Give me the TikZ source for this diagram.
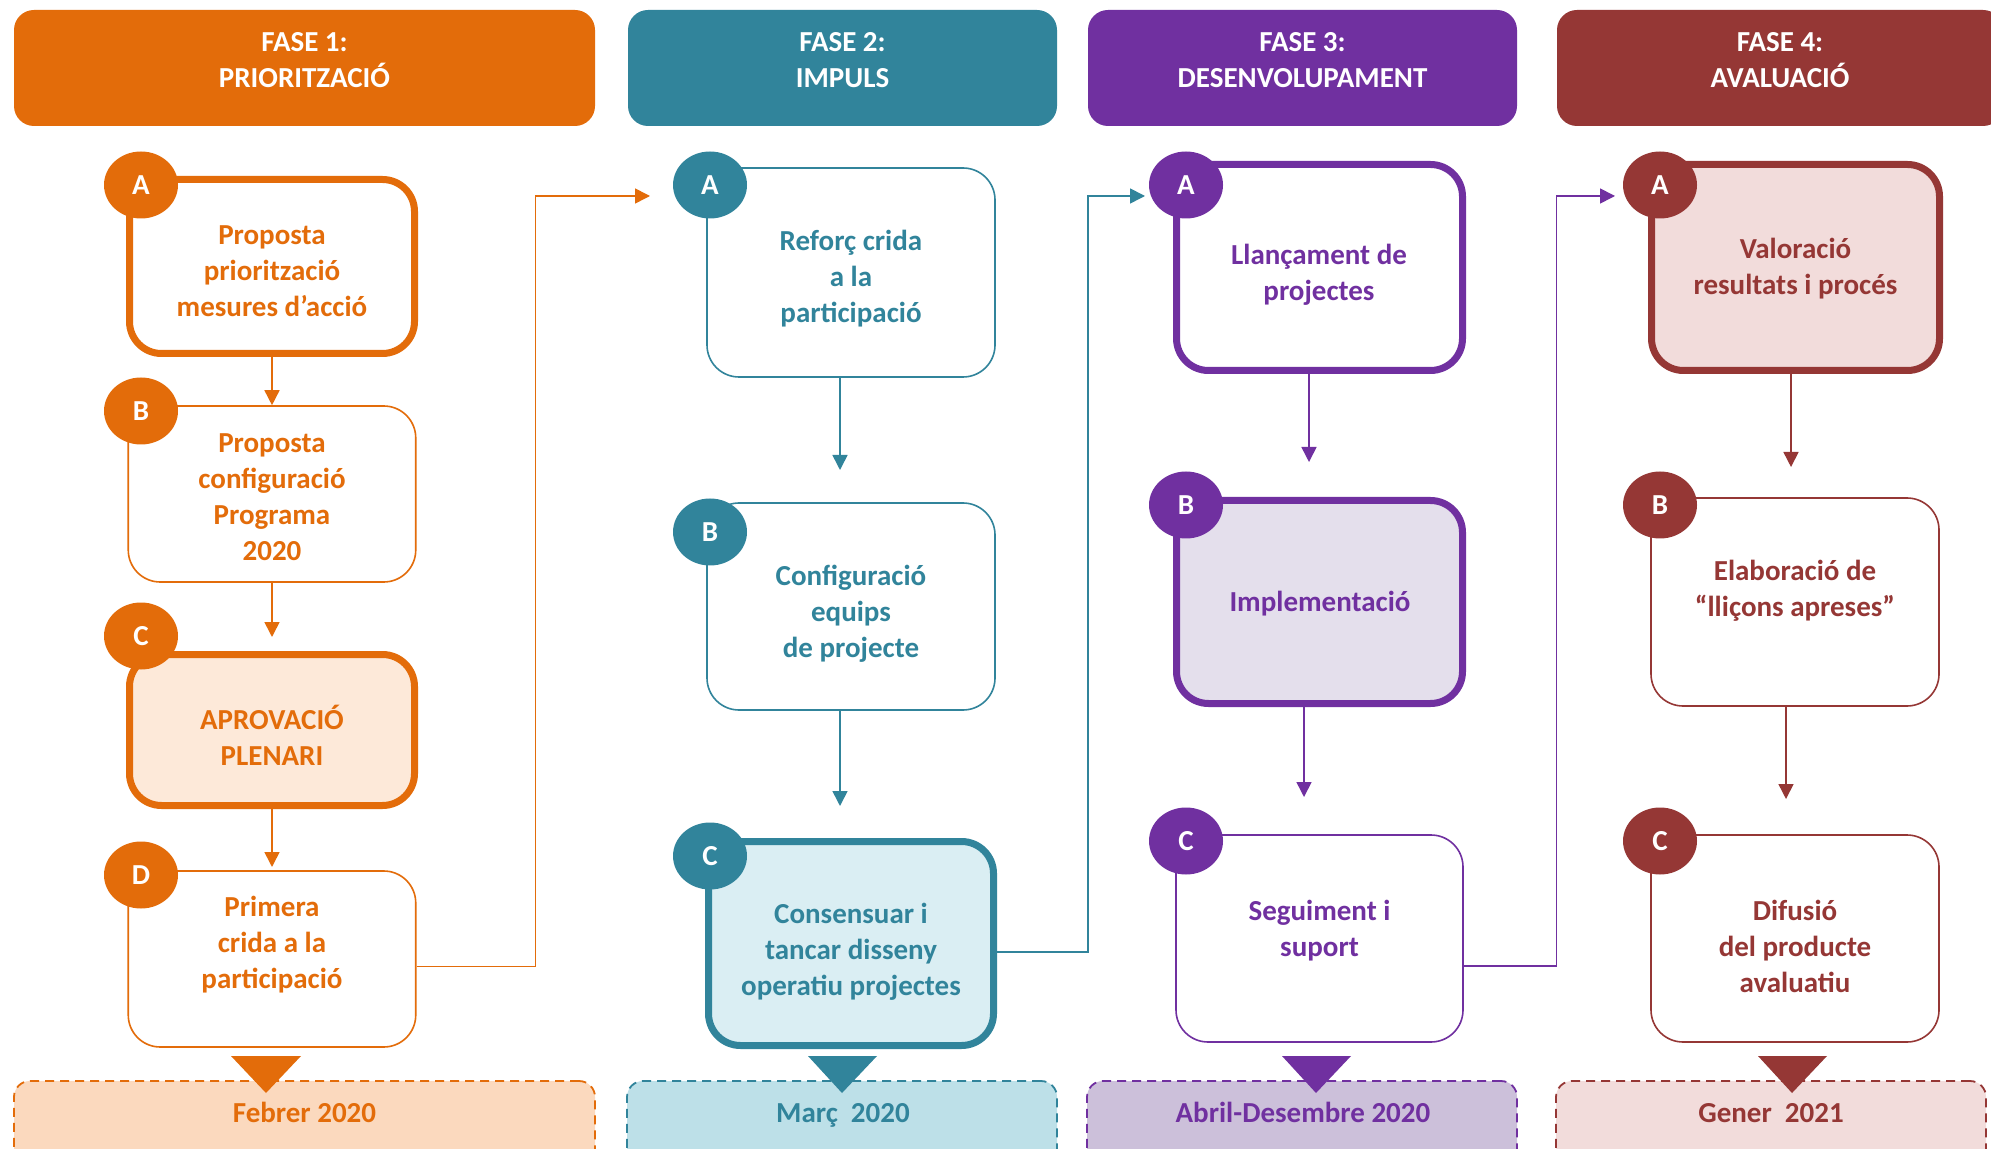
\documentclass[tikz,border=0pt]{standalone}
\usepackage{fontspec}
\setmainfont{Carlito}
\usetikzlibrary{arrows.meta,shapes.geometric,calc}
\definecolor{ora}{HTML}{E36C0A}
\definecolor{oraL}{HTML}{FDE9D9}
\definecolor{oraD}{HTML}{FBD9BE}
\definecolor{tea}{HTML}{31849B}
\definecolor{teaL}{HTML}{DAEEF3}
\definecolor{teaD}{HTML}{BDE0E8}
\definecolor{pur}{HTML}{7030A0}
\definecolor{purL}{HTML}{E4DFEC}
\definecolor{purD}{HTML}{CCC0DA}
\definecolor{red}{HTML}{953735}
\definecolor{redL}{HTML}{F2DCDB}
\definecolor{redD}{HTML}{F2DCDB}
\tikzset{
  hdr/.style={fill=#1, rounded corners=10pt, inner sep=0pt},
  hdrtxt/.style={text=white, align=center, inner sep=0pt},
  stepthin/.style={draw=#1, line width=0.8pt, rounded corners=16pt, fill=white, inner sep=0pt},
  stepthick/.style={draw=#1, line width=3.5pt, rounded corners=16pt, inner sep=0pt},
  badge/.style={ellipse, fill=#1, text=white, minimum width=37pt, minimum height=33.5pt, inner sep=0pt},
  btxt/.style={text=#1, align=center, inner sep=0pt},
  datetxt/.style={text=#1, inner sep=0pt, anchor=base},
  datebox/.style={draw=#1, dash pattern=on 4.5pt off 3pt, line width=0.9pt, rounded corners=8pt, inner sep=0pt},
  arr/.style={draw=#1, line width=0.8pt, -{Triangle[length=7.5pt,width=7.5pt]}},
}
\begin{document}
\begin{tikzpicture}[x=0.5pt,y=-0.5pt,font=\bfseries\fontsize{14.5}{18}\selectfont]
\useasboundingbox (0,0) rectangle (1991,1149);
\clip (0,0) rectangle (1991,1149);
\fill[white] (0,0) rectangle (1991,1149);

% headers
\node[hdr=ora, minimum width=290.5pt, minimum height=58pt] (h1) at (304.5,68) {};
\node[hdr=tea, minimum width=214.5pt, minimum height=58pt] (h2) at (842.5,68) {};
\node[hdr=pur, minimum width=214.5pt, minimum height=58pt] (h3) at (1302.5,68) {};
\node[hdr=red, minimum width=223pt, minimum height=58pt] (h4) at (1780,68) {};
\node[hdrtxt] (h1t) at (304.5,60) {FASE 1:\\PRIORITZACIÓ};
\node[hdrtxt] (h2t) at (842.5,60) {FASE 2:\\IMPULS};
\node[hdrtxt] (h3t) at (1302.5,60) {FASE 3:\\DESENVOLUPAMENT};
\node[hdrtxt] (h4t) at (1780,60) {FASE 4:\\AVALUACIÓ};

% date boxes
\node[datebox=ora, fill=oraD, minimum width=290.5pt, minimum height=44.5pt] (d1) at (304.5,1125.5) {};
\node[datebox=tea, fill=teaD, minimum width=215pt, minimum height=44.5pt] (d2) at (842,1125.5) {};
\node[datebox=pur, fill=purD, minimum width=215pt, minimum height=44.5pt] (d3) at (1302,1125.5) {};
\node[datebox=red, fill=redD, minimum width=215pt, minimum height=44.5pt] (d4) at (1771,1125.5) {};
\node[datetxt=ora] (d1t) at (304.5,1122) {Febrer 2020};
\node[datetxt=tea] (d2t) at (843,1122) {Març\ \ 2020};
\node[datetxt=pur] (d3t) at (1303,1122) {Abril-Desembre 2020};
\node[datetxt=red] (d4t) at (1771,1122) {Gener\ \ 2021};

% big triangles
\fill[ora] (231,1056) -- (301,1056) -- (266,1093) -- cycle;
\fill[tea] (808,1056) -- (877,1056) -- (842,1093) -- cycle;
\fill[pur] (1282,1056) -- (1351,1056) -- (1316,1093) -- cycle;
\fill[red] (1758,1056) -- (1827,1056) -- (1792,1093) -- cycle;

% phase 1
\node[stepthick=ora, fill=white, minimum width=142.5pt, minimum height=87pt] (p1a) at (272,266.5) {};
\node[stepthin=ora, minimum width=143.75pt, minimum height=88pt] (p1b) at (272,494) {};
\node[stepthick=ora, fill=oraL, minimum width=142.5pt, minimum height=75.5pt] (p1c) at (272,730) {};
\node[stepthin=ora, minimum width=143.75pt, minimum height=88pt] (p1d) at (272,959) {};
\node[btxt=ora] (p1at) at (272,271) {Proposta\\priorització\\mesures d’acció};
\node[btxt=ora] (p1bt) at (272,497) {Proposta\\configuració\\Programa\\2020};
\node[btxt=ora] (p1ct) at (272,735) {APROVACIÓ\\PLENARI};
\node[btxt=ora] (p1dt) at (272,945) {Primera\\crida a la\\participació};
\node[badge=ora] (b1a) at (141,185) {A};
\node[badge=ora] (b1b) at (141,411) {B};
\node[badge=ora] (b1c) at (141,636) {C};
\node[badge=ora] (b1d) at (141,875) {D};

% phase 2
\node[stepthin=tea, minimum width=144pt, minimum height=104.5pt] (p2a) at (851,272.5) {};
\node[stepthin=tea, minimum width=144pt, minimum height=103.5pt] (p2b) at (851,606.5) {};
\node[stepthick=tea, fill=teaL, minimum width=142.5pt, minimum height=102pt] (p2c) at (851,943.5) {};
\node[btxt=tea] (p2at) at (851,279) {Reforç crida\\a la\\participació};
\node[btxt=tea] (p2bt) at (851,613.5) {Configuració\\equips\\de projecte};
\node[btxt=tea] (p2ct) at (851,952) {Consensuar i\\tancar disseny\\operatiu projectes};
\node[badge=tea] (b2a) at (710,185) {A};
\node[badge=tea] (b2b) at (710,532) {B};
\node[badge=tea] (b2c) at (710,856) {C};

% phase 3
\node[stepthick=pur, fill=white, minimum width=143pt, minimum height=103pt] (p3a) at (1319.5,267.5) {};
\node[stepthick=pur, fill=purL, minimum width=143pt, minimum height=101.5pt] (p3b) at (1319.5,602) {};
\node[stepthin=pur, minimum width=143.5pt, minimum height=103.5pt] (p3c) at (1319.5,938.5) {};
\node[btxt=pur] (p3at) at (1319,274.5) {Llançament de\\projectes};
\node[btxt=pur] (p3bt) at (1320,603.5) {Implementació};
\node[btxt=pur] (p3ct) at (1319.5,930.5) {Seguiment i\\suport};
\node[badge=pur] (b3a) at (1186,185) {A};
\node[badge=pur] (b3b) at (1186,505) {B};
\node[badge=pur] (b3c) at (1186,841) {C};

% phase 4
\node[stepthick=red, fill=redL, minimum width=144pt, minimum height=103pt] (p4a) at (1795.5,267.5) {};
\node[stepthin=red, minimum width=144pt, minimum height=104pt] (p4b) at (1795,602) {};
\node[stepthin=red, minimum width=144pt, minimum height=103.5pt] (p4c) at (1795,938.5) {};
\node[btxt=red] (p4at) at (1795.5,269) {Valoració\\resultats i procés};
\node[btxt=red] (p4bt) at (1795,591) {Elaboració de\\“lliçons apreses”};
\node[btxt=red] (p4ct) at (1795,946) {Difusió\\del producte\\avaluatiu};
\node[badge=red] (b4a) at (1660,185) {A};
\node[badge=red] (b4b) at (1660,505) {B};
\node[badge=red] (b4c) at (1660,841) {C};

% arrow end coordinates
\coordinate (e1c) at (272,637);
\coordinate (e1d) at (272,867);
\coordinate (e2b) at (840,470);
\coordinate (e2c) at (840,806);
\coordinate (e3b) at (1309,462);
\coordinate (e3c) at (1304,797);
\coordinate (e4b) at (1791,467);
\coordinate (e4c) at (1786,799);
\coordinate (k1) at (535.5,196);
\coordinate (in2) at (650,196);
\coordinate (k2) at (1088,196);
\coordinate (in3) at (1145,196);
\coordinate (k3) at (1556.5,196);
\coordinate (in4) at (1615,196);

% arrows within phases
\draw[arr=ora] (p1a.south) -- (p1b.north);
\draw[arr=ora] (p1b.south) -- (e1c);
\draw[arr=ora] (p1c.south) -- (e1d);
\draw[arr=tea] (p2a.south -| e2b) -- (e2b);
\draw[arr=tea] (p2b.south -| e2c) -- (e2c);
\draw[arr=pur] (p3a.south -| e3b) -- (e3b);
\draw[arr=pur] (p3b.south -| e3c) -- (e3c);
\draw[arr=red] (p4a.south -| e4b) -- (e4b);
\draw[arr=red] (p4b.south -| e4c) -- (e4c);

% connectors between phases
\draw[arr=ora] ([yshift=-3.75pt]p1d.east) -| (k1) -- (in2);
\draw[arr=tea] ([yshift=-4.25pt]p2c.east) -| (k2) -- (in3);
\draw[arr=pur] ([yshift=-13.75pt]p3c.east) -| (k3) -- (in4);
\end{tikzpicture}
\end{document}
